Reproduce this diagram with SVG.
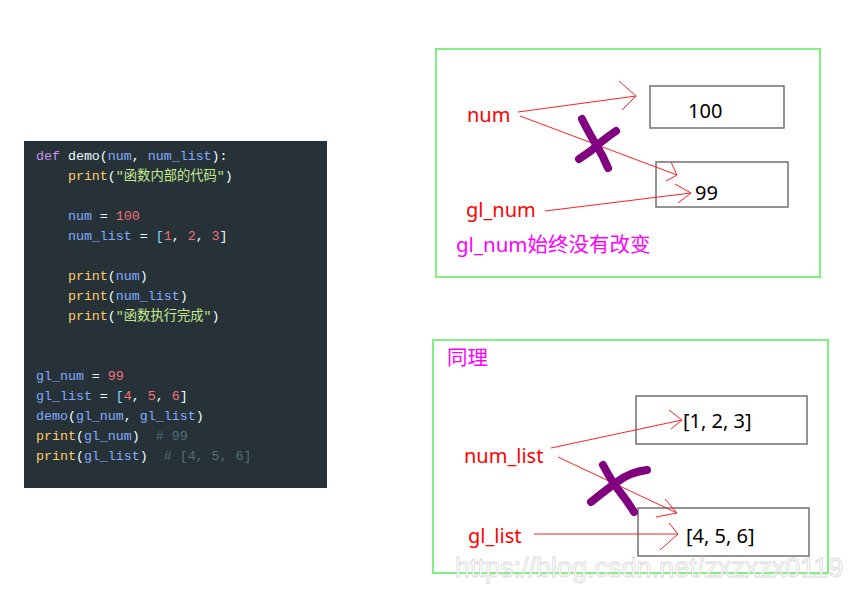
<svg xmlns="http://www.w3.org/2000/svg" width="855" height="591" viewBox="0 0 855 591">
<defs>
<style>
.code{font-family:"Liberation Mono","DejaVu Sans Mono","Noto Sans CJK SC",monospace;font-size:13.3px;fill:#eeffff;white-space:pre}
.k{fill:#c792ea}.f{fill:#82aaff}.p{fill:#ffcb6b}.s{fill:#c3e88d}.n{fill:#f07178}.o{fill:#89ddff}.c{fill:#546e7a}
.lbl{font-family:"Noto Sans","Noto Sans CJK SC",sans-serif;font-size:20px;fill:#ff0000}
.val{font-family:"Noto Sans","Noto Sans CJK SC",sans-serif;font-size:20px;fill:#000}
.note{font-family:"Noto Sans","Noto Sans CJK SC",sans-serif;font-size:20.5px;fill:#ff00ff}
.frame{fill:#fff;stroke:#80f080;stroke-width:2}
.box{fill:#fff;stroke:#707070;stroke-width:1.5}
.arr{fill:none;stroke:#ff2020;stroke-width:1}
.x{fill:none;stroke:#800080;stroke-width:8;stroke-linecap:round;stroke-linejoin:round}
</style>
</defs>
<rect width="855" height="591" fill="#fff"/>
<g id="code">
<rect x="24" y="141" width="303" height="347" fill="#263238"/>
<text class="code" x="36" y="160"><tspan class="k">def</tspan> demo(<tspan class="f">num</tspan>, <tspan class="f">num_list</tspan>):</text>
<text class="code" x="36" y="180">    <tspan class="p">print</tspan>(<tspan class="s">"函数内部的代码"</tspan>)</text>
<text class="code" x="36" y="220">    <tspan class="f">num</tspan> = <tspan class="n">100</tspan></text>
<text class="code" x="36" y="240">    <tspan class="f">num_list</tspan> = <tspan class="o">[</tspan><tspan class="n">1</tspan>, <tspan class="n">2</tspan>, <tspan class="n">3</tspan>]</text>
<text class="code" x="36" y="280">    <tspan class="p">print</tspan>(<tspan class="f">num</tspan>)</text>
<text class="code" x="36" y="300">    <tspan class="p">print</tspan>(<tspan class="f">num_list</tspan>)</text>
<text class="code" x="36" y="320">    <tspan class="p">print</tspan>(<tspan class="s">"函数执行完成"</tspan>)</text>
<text class="code" x="36" y="380"><tspan class="f">gl_num</tspan> = <tspan class="n">99</tspan></text>
<text class="code" x="36" y="400"><tspan class="f">gl_list</tspan> = <tspan class="o">[</tspan><tspan class="n">4</tspan>, <tspan class="n">5</tspan>, <tspan class="n">6</tspan>]</text>
<text class="code" x="36" y="420"><tspan class="f">demo</tspan>(<tspan class="f">gl_num</tspan>, <tspan class="f">gl_list</tspan>)</text>
<text class="code" x="36" y="440"><tspan class="p">print</tspan>(<tspan class="f">gl_num</tspan>)  <tspan class="c"># 99</tspan></text>
<text class="code" x="36" y="460"><tspan class="p">print</tspan>(<tspan class="f">gl_list</tspan>)  <tspan class="c"># [4, 5, 6]</tspan></text>
</g>
<g id="frame-num">
<rect class="frame" x="436" y="49" width="384" height="228"/>
</g>
<g id="frame-list">
<rect class="frame" x="433" y="340" width="395" height="233"/>
</g>
<g id="box-100"><rect class="box" x="650" y="86" width="134" height="42"/><text class="val" x="688" y="118">100</text></g>
<g id="box-99"><rect class="box" x="656" y="162" width="132" height="45"/><text class="val" x="695" y="200">99</text></g>
<g id="box-123"><rect class="box" x="636" y="396" width="171" height="48"/><text class="val" x="683" y="428">[1, 2, 3]</text></g>
<g id="box-456"><rect class="box" x="638" y="508" width="171" height="48"/><text class="val" x="686" y="543">[4, 5, 6]</text></g>
<g id="label-num"><text class="lbl" x="467" y="122">num</text></g>
<g id="label-gl_num"><text class="lbl" x="466" y="217">gl_num</text></g>
<g id="label-num_list"><text class="lbl" x="464" y="463">num_list</text></g>
<g id="label-gl_list"><text class="lbl" x="468" y="543">gl_list</text></g>
<g id="note-1"><text class="note" x="456" y="252">gl_num始终没有改变</text></g>
<g id="note-2"><text class="note" x="447" y="365">同理</text></g>
<g id="connectors">
<path class="arr" d="M518,112 L636,96 M619,81 L636,96 L622,110"/>
<path class="arr" d="M520,116 L677,175 M671,162 L677,175 L666,181"/>
<path class="arr" d="M545,211 L691,193 M675,184 L691,193 L678,203"/>
<path class="arr" d="M551,448 L682,420 M669,410 L682,420 L671,429"/>
<path class="arr" d="M558,457 L677,513 M665,499 L677,513 L656,517"/>
<path class="arr" d="M534,534 L678,534 M669,523 L678,534 L660,550"/>
</g>
<g id="cross-1">
<path class="x" d="M582,119 Q590,135 597,146 Q603,156 608,168"/>
<path class="x" d="M616,131 Q600,142 592,150 Q585,155 579,159"/>
</g>
<g id="cross-2">
<path class="x" d="M603,465 Q612,482 620,492 Q628,502 634,512"/>
<path class="x" d="M647,470 Q630,472 617,482 Q602,493 591,502"/>
</g>
<text x="455" y="577" font-family="Liberation Sans,Arial,sans-serif" font-size="27" fill="#ffffff" stroke="#cfcfcf" stroke-width="0.8" opacity="0.8">https://blog.csdn.net/zxzxzx0119</text>
</svg>
